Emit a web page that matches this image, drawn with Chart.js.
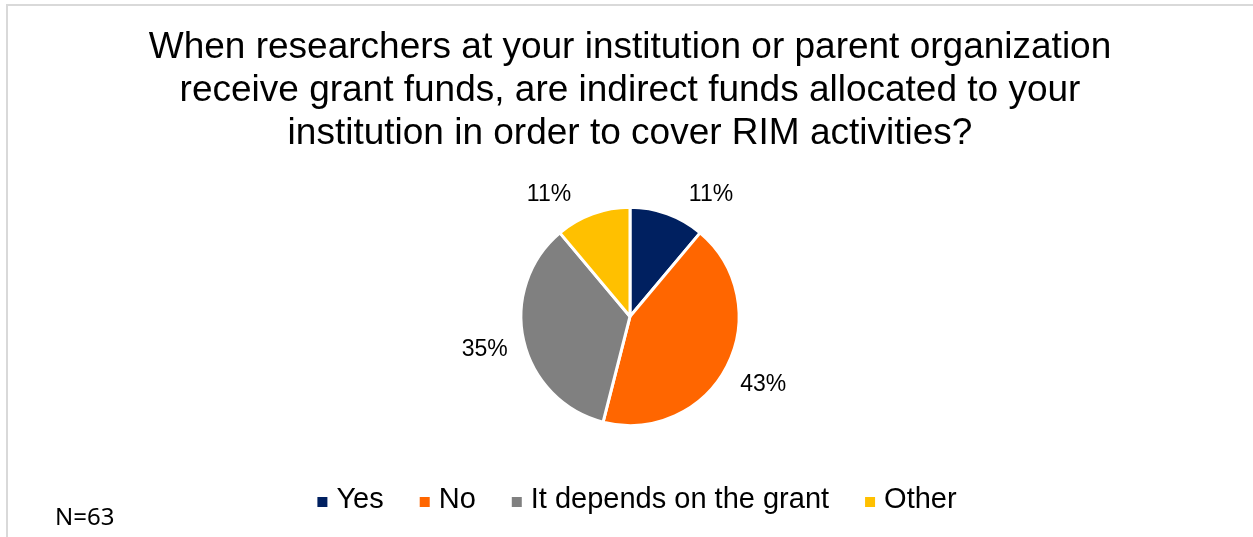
<!DOCTYPE html>
<html>
<head>
<meta charset="utf-8">
<title>Indirect funds for RIM activities</title>
<script src="https://cdn.jsdelivr.net/npm/chart.js@4.4.0/dist/chart.umd.min.js"></script>
<style>
  html, body { margin: 0; padding: 0; background: #fff; overflow: hidden; }
  .frame {
    position: absolute; left: 6px; top: 4px; width: 1300px; height: 600px;
    border: 2px solid #d9d9d9; box-sizing: border-box;
  }
  .chart-box { position: absolute; left: 0; top: 0; width: 1253px; height: 537px; }
</style>
</head>
<body>
<div class="frame"></div>
<div class="chart-box">
  <canvas id="fundsChart"></canvas>
</div>
<script>
// Survey answers (N=63)
const categories = ['Yes', 'No', 'It depends on the grant', 'Other'];
const responses = [7, 27, 22, 7];
const sliceColors = ['#002060', '#FF6600', '#808080', '#FFC000'];
const titleLines = [
  'When researchers at your institution or parent organization',
  'receive grant funds, are indirect funds allocated to your',
  'institution in order to cover RIM activities?'
];
const sampleNote = 'N=63';

const FONT = '"Liberation Sans", Arial, sans-serif';

// percentage labels just outside each slice
const pieLabels = {
  id: 'pieLabels',
  afterDatasetsDraw(chart) {
    const ctx = chart.ctx;
    const meta = chart.getDatasetMeta(0);
    const values = chart.data.datasets[0].data;
    const total = values.reduce((a, b) => a + b, 0);
    const minTop = 33.7 * Math.PI / 180; // keep the small top labels apart
    ctx.save();
    ctx.font = '23px ' + FONT;
    ctx.fillStyle = '#000';
    ctx.textAlign = 'center';
    ctx.textBaseline = 'middle';
    meta.data.forEach((arc, i) => {
      const p = arc.getProps(['x', 'y', 'startAngle', 'endAngle', 'outerRadius'], true);
      let a = (p.startAngle + p.endAngle) / 2 + Math.PI / 2;
      while (a > Math.PI) a -= 2 * Math.PI;
      if (Math.abs(a) < minTop) a = (a < 0 ? -1 : 1) * minTop;
      const text = Math.round(values[i] / total * 100) + '%';
      const w = ctx.measureText(text).width;
      const h = 23;
      const ext = w / 2 * Math.abs(Math.sin(a)) + h / 2 * Math.abs(Math.cos(a));
      const d = p.outerRadius + 15 + ext;
      ctx.fillText(text, p.x + d * Math.sin(a), p.y - d * Math.cos(a));
    });
    ctx.restore();
  }
};

// horizontal legend row and the sample size note
const bottomLegend = {
  id: 'bottomLegend',
  afterDraw(chart) {
    const ctx = chart.ctx;
    const ds = chart.data.datasets[0];
    const box = 10, boxGap = 9, itemGap = 36, y = 500;
    ctx.save();
    ctx.font = '29px ' + FONT;
    ctx.textBaseline = 'middle';
    const widths = chart.data.labels.map(l => ctx.measureText(l).width);
    const total = widths.reduce((s, w) => s + box + boxGap + w, 0) + itemGap * (widths.length - 1);
    const cx = (chart.chartArea.left + chart.chartArea.right) / 2 + 7;
    let x = cx - total / 2;
    chart.data.labels.forEach((label, i) => {
      ctx.fillStyle = ds.backgroundColor[i];
      ctx.fillRect(x, y - 3, box, box);
      x += box + boxGap;
      ctx.fillStyle = '#000';
      ctx.textAlign = 'left';
      ctx.fillText(label, x, y);
      x += widths[i] + itemGap;
    });

    ctx.font = '24px "Noto Sans", sans-serif';
    ctx.fillText(sampleNote, 55, 518);
    ctx.restore();
  }
};

new Chart(document.getElementById('fundsChart'), {
  type: 'pie',
  data: {
    labels: categories,
    datasets: [{
      data: responses,
      backgroundColor: sliceColors,
      borderColor: '#ffffff',
      borderWidth: 3
    }]
  },
  options: {
    responsive: true,
    maintainAspectRatio: false,
    animation: false,
    events: [],
    layout: { padding: { left: 7, right: 0, top: 0, bottom: 110 } },
    plugins: {
      legend: { display: false },
      tooltip: { enabled: false },
      title: {
        display: true,
        text: titleLines,
        color: '#000',
        font: { family: FONT, size: 37, weight: 'normal', lineHeight: 1.17 },
        padding: { top: 26, bottom: 50 }
      }
    }
  },
  plugins: [pieLabels, bottomLegend]
});
</script>
</body>
</html>
